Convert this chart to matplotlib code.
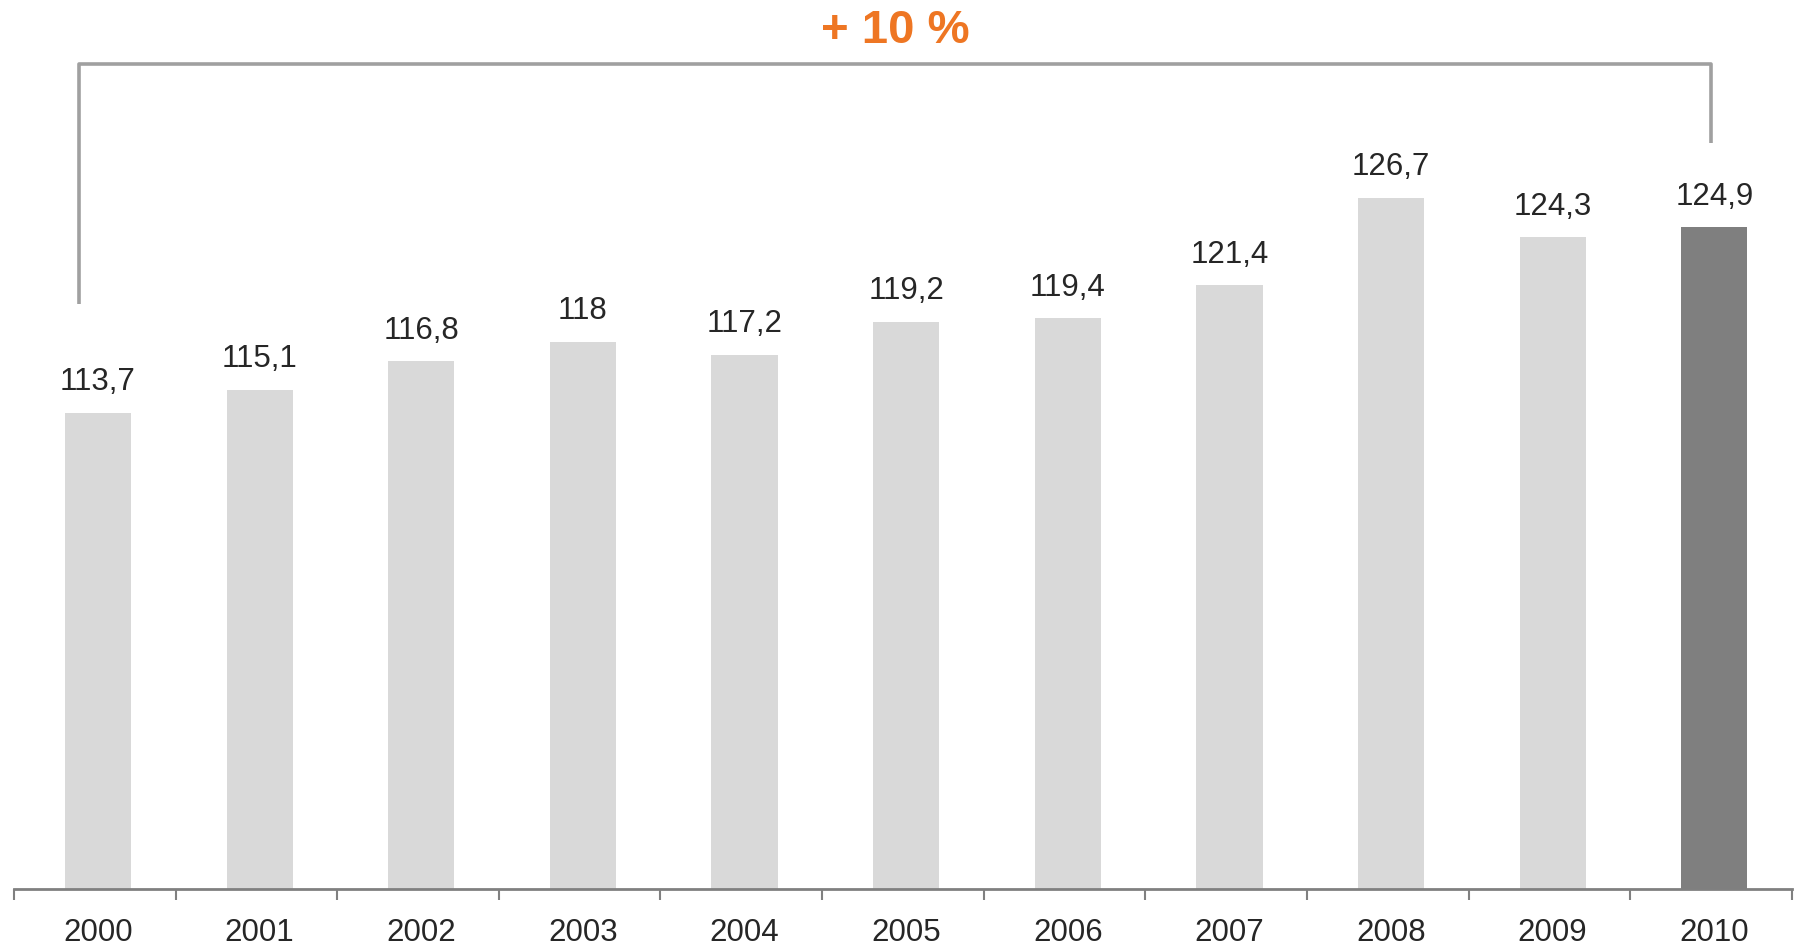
import numpy as np
import matplotlib.pyplot as plt

years = ["2000", "2001", "2002", "2003", "2004", "2005", "2006", "2007", "2008", "2009", "2010"]
values = [113.7, 115.1, 116.8, 118, 117.2, 119.2, 119.4, 121.4, 126.7, 124.3, 124.9]
labels = ["113,7", "115,1", "116,8", "118", "117,2", "119,2", "119,4", "121,4", "126,7", "124,3", "124,9"]
growth = "+ 10 %"

plt.rcParams['font.family'] = ['Liberation Sans', 'DejaVu Sans']

fig = plt.figure(figsize=(17.94, 9.5), dpi=100)
ax = fig.add_axes([0.0078, 0.0642, 0.991, 0.9358])

x = np.arange(len(years))
colors = ["#D9D9D9"] * (len(years) - 1) + ["#7F7F7F"]
base = 84.9
ax.bar(x + 0.02, np.array(values) - base, bottom=base, width=0.41, color=colors)

for xi, v, t in zip(x, values, labels):
    ax.text(xi + 0.02, v + 0.95, t, ha="center", va="bottom", fontsize=22.5, color="#262626")

# bracket from first to last year
top = 134.8
ax.plot([-0.1, -0.1, x[-1], x[-1]], [values[0] + 6.6, top, top, values[-1] + 5.1],
        color="#A0A0A0", lw=2.6, solid_capstyle="butt", clip_on=False)
ax.text((x[-1] - 0.1) / 2, 136.8, growth, ha="center", va="center",
        fontsize=34, fontweight="bold", color="#EE7623")

ax.set_xlim(-0.5, len(years) - 0.5)
ax.set_ylim(base, 138.65)
for s in ["top", "right", "left"]:
    ax.spines[s].set_visible(False)
ax.spines["bottom"].set_color("#808080")
ax.spines["bottom"].set_linewidth(2)
ax.set_yticks([])
ax.set_xticks(x + 0.02)
ax.set_xticklabels(years, fontsize=22.5, color="#262626")
ax.tick_params(axis="x", which="major", length=0, pad=21)
ax.set_xticks(np.arange(len(years) + 1) - 0.5, minor=True)
ax.tick_params(axis="x", which="minor", length=8, width=1.5, color="#808080")

plt.savefig("out.png", dpi=100)
